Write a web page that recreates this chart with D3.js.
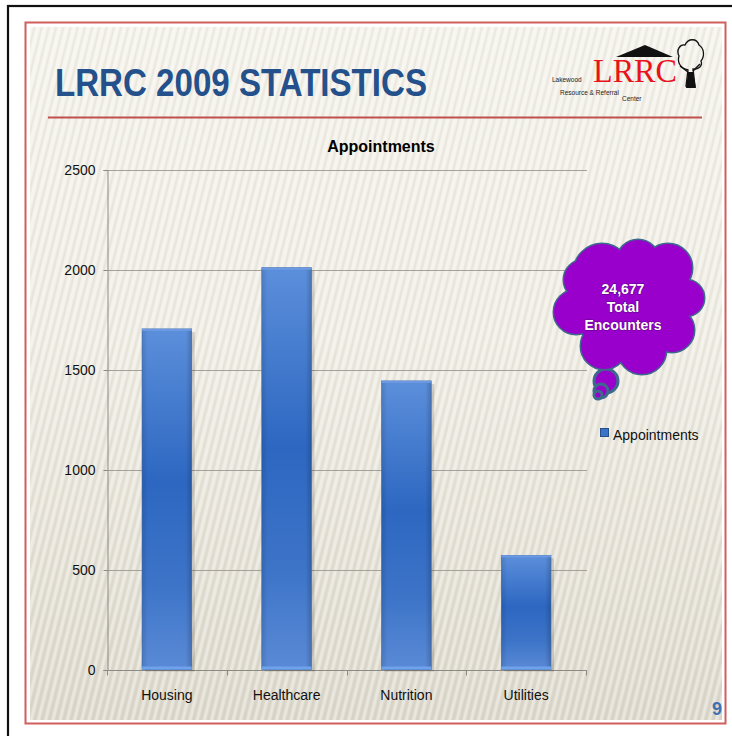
<!DOCTYPE html>
<html>
<head>
<meta charset="utf-8">
<script src="https://cdn.jsdelivr.net/npm/d3@7"></script>
<style>
  html, body { margin: 0; padding: 0; background: #fff; }
  svg { display: block; }
</style>
</head>
<body>
<svg id="chart" width="732" height="736"></svg>
<script>
// chart data
const categories = ['Housing', 'Healthcare', 'Nutrition', 'Utilities'];
const appointments = [1703, 2009, 1443, 571];
const yTicks = [0, 500, 1000, 1500, 2000, 2500];
const seriesName = 'Appointments';
const cloudLines = ['24,677', 'Total', 'Encounters'];

const svg = d3.select('#chart');
const defs = svg.append('defs');

// slide background
let bg = defs.append('linearGradient').attr('id', 'bgGrad')
    .attr('x1', 0).attr('y1', 0).attr('x2', 0).attr('y2', 1);
bg.append('stop').attr('offset', '0%').attr('stop-color', '#f4f2eb');
bg.append('stop').attr('offset', '45%').attr('stop-color', '#efece3');
bg.append('stop').attr('offset', '100%').attr('stop-color', '#dbd8cb');

let stripes = defs.append('pattern').attr('id', 'stripes')
    .attr('patternUnits', 'userSpaceOnUse')
    .attr('width', 7).attr('height', 40)
    .attr('patternTransform', 'rotate(14)');
stripes.append('rect').attr('x', 0).attr('y', 0).attr('width', 3).attr('height', 40)
    .attr('fill', '#ffffff').attr('opacity', 0.35);
stripes.append('rect').attr('x', 4).attr('y', 0).attr('width', 2).attr('height', 40)
    .attr('fill', '#b9b4a2').attr('opacity', 0.14);

let barGrad = defs.append('linearGradient').attr('id', 'barGrad')
    .attr('x1', 0).attr('y1', 0).attr('x2', 0).attr('y2', 1);
barGrad.append('stop').attr('offset', '0%').attr('stop-color', '#5c8fdb');
barGrad.append('stop').attr('offset', '45%').attr('stop-color', '#2d67c1');
barGrad.append('stop').attr('offset', '75%').attr('stop-color', '#3d74c8');
barGrad.append('stop').attr('offset', '100%').attr('stop-color', '#5a8ad6');

let sideGrad = defs.append('linearGradient').attr('id', 'sideGrad')
    .attr('x1', 0).attr('y1', 0).attr('x2', 1).attr('y2', 0);
sideGrad.append('stop').attr('offset', '0%').attr('stop-color', '#000').attr('stop-opacity', 0.12);
sideGrad.append('stop').attr('offset', '12%').attr('stop-color', '#000').attr('stop-opacity', 0);
sideGrad.append('stop').attr('offset', '88%').attr('stop-color', '#000').attr('stop-opacity', 0);
sideGrad.append('stop').attr('offset', '100%').attr('stop-color', '#000').attr('stop-opacity', 0.18);

// frames
svg.append('rect').attr('x', 8).attr('y', 6).attr('width', 740).attr('height', 740)
    .attr('fill', '#fff').attr('stroke', '#111').attr('stroke-width', 2.2);
svg.append('rect').attr('x', 30).attr('y', 27).attr('width', 692).attr('height', 693)
    .attr('fill', 'url(#bgGrad)');
svg.append('rect').attr('x', 30).attr('y', 27).attr('width', 692).attr('height', 693)
    .attr('fill', 'url(#stripes)');
svg.append('rect').attr('x', 25.5).attr('y', 22.5).attr('width', 700).attr('height', 701)
    .attr('fill', 'none').attr('stroke', '#cf5f5d').attr('stroke-width', 2);

// title
svg.append('text').attr('x', 55).attr('y', 96)
    .attr('font-family', '"Liberation Sans Narrow", "Arial Narrow", "Liberation Sans", sans-serif')
    .attr('font-size', 38).attr('font-weight', 'bold')
    .attr('fill', '#24518b')
    .attr('textLength', 372).attr('lengthAdjust', 'spacingAndGlyphs')
    .text('LRRC 2009 STATISTICS');

svg.append('line').attr('x1', 48).attr('x2', 702).attr('y1', 117.5).attr('y2', 117.5)
    .attr('stroke', '#c0504d').attr('stroke-width', 2);

// logo
let logo = svg.append('g');
logo.append('path').attr('d', 'M616,57 L645,45 L673,57 Z').attr('fill', '#111');
logo.append('text').attr('x', 593).attr('y', 82)
    .attr('font-family', '"Liberation Serif", serif').attr('font-size', 34)
    .attr('fill', '#e8131b').attr('textLength', 84).attr('lengthAdjust', 'spacingAndGlyphs')
    .text('LRRC');
logo.append('path')
    .attr('d', 'M686,86 L688,70 C680,68 677,62 679,56 C676,50 680,44 685,45 C688,38 697,38 699,45 C704,48 705,56 701,61 C703,66 698,70 693,69 L695,86 Z')
    .attr('fill', 'none').attr('stroke', '#111').attr('stroke-width', 1.3);
logo.append('path').attr('d', 'M686,88 L688,72 L693,72 L696,88 Z').attr('fill', '#111');
logo.append('path').attr('d', 'M680,66 L688,72 M700,64 L693,71').attr('stroke', '#111').attr('stroke-width', 1.5);
const logoSmall = [['Lakewood', 552, 82], ['Resource & Referral', 560, 95], ['Center', 622, 101]];
logo.selectAll('text.small').data(logoSmall).join('text')
    .attr('class', 'small')
    .attr('x', d => d[1]).attr('y', d => d[2])
    .attr('font-family', '"Liberation Sans Narrow", "Liberation Sans", sans-serif')
    .attr('font-size', 6.5).attr('fill', '#222')
    .text(d => d[0]);

// chart
const x = d3.scaleBand().domain(categories)
    .range([107, 586]).paddingInner(0.585).paddingOuter(0.2925);
const y = d3.scaleLinear().domain([0, 2500]).range([669.5, 169.5]);

svg.append('text').attr('x', 381).attr('y', 152).attr('text-anchor', 'middle')
    .attr('font-family', '"Liberation Sans", Arial, sans-serif')
    .attr('font-size', 16).attr('font-weight', 'bold').attr('fill', '#000')
    .text('Appointments');

// gridlines
svg.append('g').selectAll('line').data(yTicks.filter(d => d > 0)).join('line')
    .attr('x1', 107).attr('x2', 587)
    .attr('y1', d => Math.round(y(d)) + 0.5).attr('y2', d => Math.round(y(d)) + 0.5)
    .attr('stroke', '#a3a19a').attr('stroke-width', 1);

// y axis
let yAxis = svg.append('g').attr('transform', 'translate(107.5,0.5)')
    .call(d3.axisLeft(y).tickValues(yTicks).tickSize(4).tickPadding(8).tickFormat(d3.format('d')));
yAxis.select('.domain').attr('stroke', '#8c8a84');
yAxis.selectAll('.tick line').attr('stroke', '#8c8a84');
yAxis.selectAll('.tick text')
    .attr('font-family', '"Liberation Sans", Arial, sans-serif')
    .attr('font-size', 14).attr('fill', '#111');

// x axis with ticks on slot boundaries
let xAxis = svg.append('g').attr('transform', 'translate(0,' + (Math.round(y(0)) + 0.5) + ')');
xAxis.append('line').attr('x1', 107).attr('x2', 587).attr('stroke', '#8c8a84');
const bounds = d3.range(categories.length + 1).map(i => 107 + i * x.step());
xAxis.selectAll('line.tk').data(bounds).join('line').attr('class', 'tk')
    .attr('x1', d => Math.round(d) + 0.5).attr('x2', d => Math.round(d) + 0.5)
    .attr('y1', 0).attr('y2', 5).attr('stroke', '#8c8a84');
xAxis.selectAll('text').data(categories).join('text')
    .attr('x', d => x(d) + x.bandwidth() / 2).attr('y', 29)
    .attr('text-anchor', 'middle')
    .attr('font-family', '"Liberation Sans", Arial, sans-serif')
    .attr('font-size', 14).attr('fill', '#111')
    .text(d => d);

// bars
let bars = svg.append('g').selectAll('g').data(categories).join('g');
bars.append('rect')
    .attr('x', d => x(d) + 3).attr('y', (d, i) => y(appointments[i]) + 3)
    .attr('width', x.bandwidth()).attr('height', (d, i) => y(0) - y(appointments[i]) - 1)
    .attr('fill', '#000').attr('opacity', 0.14);
bars.append('rect')
    .attr('x', d => x(d)).attr('y', (d, i) => y(appointments[i]))
    .attr('width', x.bandwidth()).attr('height', (d, i) => y(0) - y(appointments[i]))
    .attr('fill', 'url(#barGrad)');
bars.append('rect')
    .attr('x', d => x(d)).attr('y', (d, i) => y(appointments[i]))
    .attr('width', x.bandwidth()).attr('height', (d, i) => y(0) - y(appointments[i]))
    .attr('fill', 'url(#sideGrad)').attr('stroke', '#3a67ad').attr('stroke-width', 0.6);
bars.append('rect')
    .attr('x', d => x(d)).attr('y', (d, i) => y(appointments[i]))
    .attr('width', x.bandwidth()).attr('height', 2)
    .attr('fill', '#6d9ae0');
bars.append('rect')
    .attr('x', d => x(d)).attr('y', y(0) - 3)
    .attr('width', x.bandwidth()).attr('height', 3)
    .attr('fill', '#6fa2ec');

// legend
svg.append('rect').attr('x', 600.5).attr('y', 428.5).attr('width', 8).attr('height', 8)
    .attr('fill', '#3c72c8').attr('stroke', '#24518b').attr('stroke-width', 1);
svg.append('text').attr('x', 613).attr('y', 440)
    .attr('font-family', '"Liberation Sans", Arial, sans-serif')
    .attr('font-size', 14).attr('fill', '#111')
    .text(seriesName);

// thought cloud
const lobes = [
    [628, 308, 52], [602, 272, 28], [638, 261, 21], [668, 268, 24],
    [686, 298, 18], [672, 330, 22], [642, 350, 24], [604, 346, 23],
    [576, 312, 22], [584, 280, 20], [606, 381, 12], [601, 391, 7], [598, 395, 4]
];
let cloud = svg.append('g');
cloud.selectAll('circle.o').data(lobes).join('circle').attr('class', 'o')
    .attr('cx', d => d[0]).attr('cy', d => d[1]).attr('r', d => d[2])
    .attr('fill', '#9900cc').attr('stroke', '#3d6a8c').attr('stroke-width', 3);
cloud.selectAll('circle.f').data(lobes.slice(0, 10)).join('circle').attr('class', 'f')
    .attr('cx', d => d[0]).attr('cy', d => d[1]).attr('r', d => d[2])
    .attr('fill', '#9900cc');
cloud.selectAll('text').data(cloudLines).join('text')
    .attr('x', 623).attr('y', (d, i) => 294 + i * 18)
    .attr('text-anchor', 'middle')
    .attr('font-family', '"Liberation Sans", Arial, sans-serif')
    .attr('font-size', 14).attr('font-weight', 'bold').attr('fill', '#fff')
    .style('paint-order', 'stroke').attr('stroke', '#5a0080').attr('stroke-width', 1)
    .text(d => d);

// page number
svg.append('text').attr('x', 722).attr('y', 715).attr('text-anchor', 'end')
    .attr('font-family', '"Liberation Sans", Arial, sans-serif')
    .attr('font-size', 18).attr('font-weight', 'bold').attr('fill', '#3f70b3')
    .text('9');
</script>
</body>
</html>
